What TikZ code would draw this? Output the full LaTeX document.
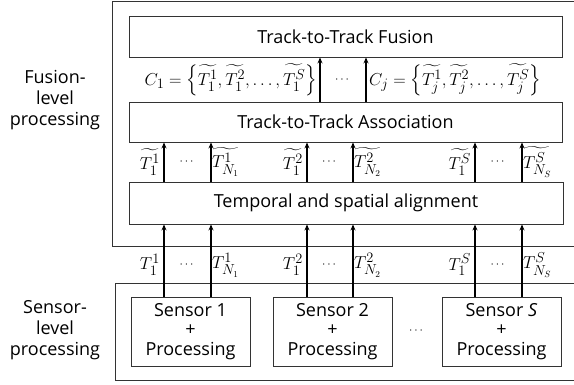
\documentclass[tikz,border=0pt]{standalone}
\usepackage{amsmath}
\usepackage{fontspec}
\setmainfont{Open Sans}
\usetikzlibrary{arrows.meta,calc}
\begin{document}
\begin{tikzpicture}[x=1pt,y=-1pt,
  font=\fontsize{18}{21}\selectfont,
  boxline/.style={draw=black!80, line width=0.9pt},
  procbox/.style={boxline, rectangle, inner sep=0pt, align=center},
  arr/.style={-{Stealth[length=6pt,width=5pt]}, line width=1.1pt, black},
  lbl/.style={inner sep=1pt, font=\fontsize{19}{21}\selectfont},
  dotl/.style={inner sep=1pt, font=\fontsize{13}{15}\selectfont},
  side/.style={align=center, inner sep=0pt}]
\useasboundingbox (0,0) rectangle (574,385);
% frames
\draw[boxline] (112,1.5) rectangle (590,246);
\draw[boxline] (115,283) rectangle (590,380);
% side labels
\node[side] (fl) at (55,100) {Fusion-\\level\\processing};
\node[side] (sl) at (55,330) {Sensor-\\level\\processing};
% main boxes
\node[procbox, minimum width=433pt, minimum height=41pt] (fus) at (345.5,36.5) {Track-to-Track Fusion};
\node[procbox, minimum width=433pt, minimum height=40pt] (assoc) at (345.5,122) {Track-to-Track Association};
\node[procbox, minimum width=434pt, minimum height=42pt] (align) at (346,203) {Temporal and spatial alignment};
% sensors
\node[procbox, minimum width=119pt, minimum height=69pt, font=\fontsize{18}{19.5}\selectfont] (s1) at (190.5,331.5) {Sensor 1\\+\\Processing};
\node[procbox, minimum width=119pt, minimum height=69pt, font=\fontsize{18}{19.5}\selectfont] (s2) at (332.5,331.5) {Sensor 2\\+\\Processing};
\node[procbox, minimum width=119pt, minimum height=69pt, font=\fontsize{18}{19.5}\selectfont] (ss) at (501.5,331.5) {Sensor \textit{S}\\+\\Processing};
\node[dotl] (sdots) at (417,331) {$\cdots$};
% arrow columns
\foreach \n/\xl/\xr in {a/164/211,b/307/353,c/475/522}{
  \coordinate (\n L) at (\xl,297);
  \coordinate (\n R) at (\xr,297);
  \coordinate (\n Lt) at (\xl,265);
  \coordinate (\n Rt) at (\xr,265);
  \coordinate (\n Lu) at (\xl,162);
  \coordinate (\n Ru) at (\xr,162);
}
\foreach \c in {aL,aR,bL,bR,cL,cR}{
  \draw[arr] (\c) -- (\c |- align.south);
  \draw[arr] (\c |- align.north) -- (\c |- assoc.south);
}
% labels lower gap and upper gap
\foreach \n/\k in {a/1,b/2,c/S}{
  \node[lbl, anchor=east] (lo\n l) at ([xshift=-3pt]\n Lt) {$T_1^{\k}$};
  \node[lbl, anchor=west] (lo\n r) at ([xshift=0pt]\n Rt) {$T_{N_{\k}}^{\k}$};
  \node[dotl] (lo\n d) at ($(\n Lt)!0.5!(\n Rt)$) {$\cdots$};
  \node[lbl, anchor=east] (up\n l) at ([xshift=-3pt]\n Lu) {$\widetilde{T_1^{\k}}$};
  \node[lbl, anchor=west] (up\n r) at ([xshift=0pt]\n Ru) {$\widetilde{T_{N_{\k}}^{\k}}$};
  \node[dotl] (up\n d) at ($(\n Lu)!0.5!(\n Ru)$) {$\cdots$};
}
% association -> fusion
\coordinate (f1) at (320,80);
\coordinate (f2) at (366,80);
\draw[arr] (f1 |- assoc.north) -- (f1 |- fus.south);
\draw[arr] (f2 |- assoc.north) -- (f2 |- fus.south);
\node[lbl, anchor=east] (c1) at ([xshift=-2pt]f1) {$C_1=\left\{\widetilde{T_1^1},\widetilde{T_1^2},\dots,\widetilde{T_1^S}\right\}$};
\node[dotl] (cd) at ($(f1)!0.5!(f2)$) {$\cdots$};
\node[lbl, anchor=west] (cj) at ([xshift=2pt]f2) {$C_j=\left\{\widetilde{T_j^1},\widetilde{T_j^2},\dots,\widetilde{T_j^S}\right\}$};
\end{tikzpicture}
\end{document}
